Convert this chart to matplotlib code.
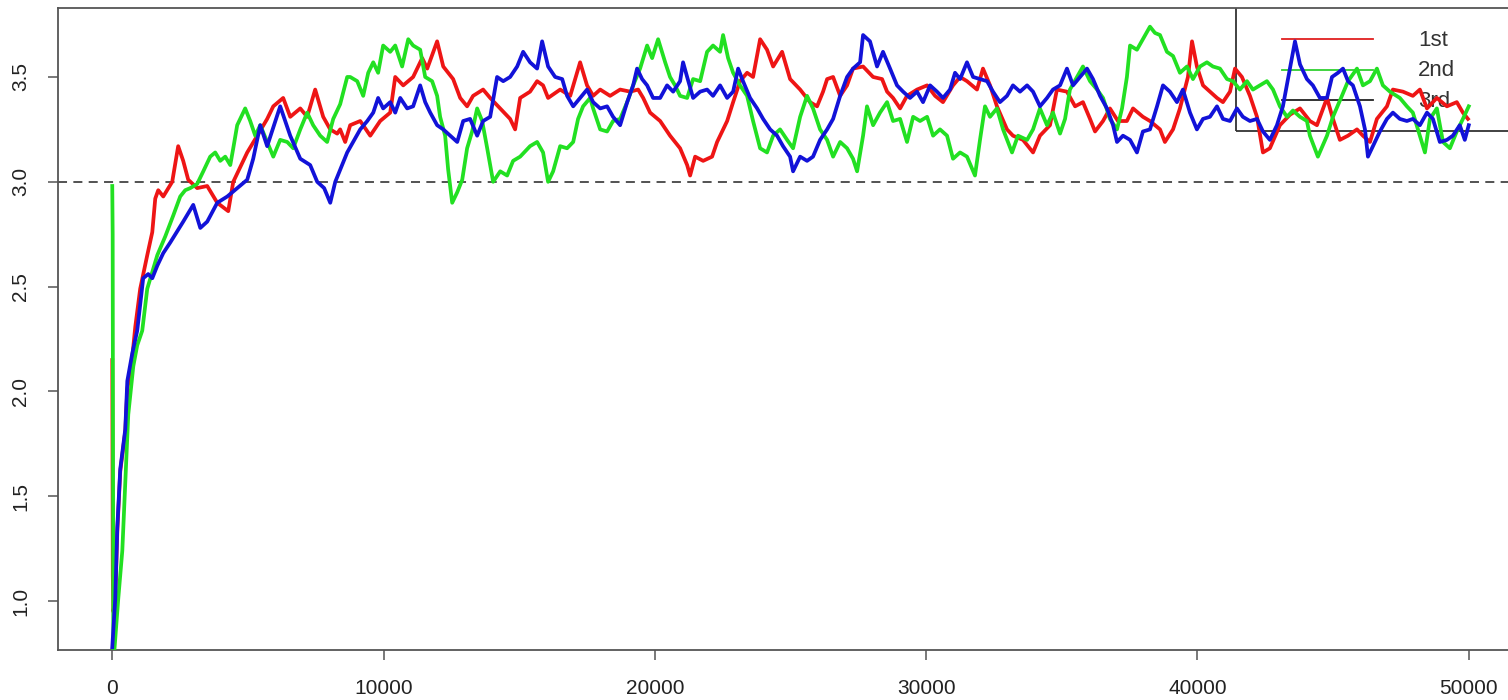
import numpy as np
import matplotlib
matplotlib.use("Agg")
import matplotlib.pyplot as plt
from matplotlib.patches import Rectangle

plt.rcParams['font.family'] = ['Liberation Sans Narrow', 'Liberation Sans', 'DejaVu Sans']

# three chains: (iteration, value)
chain1 = [(0, 2.15), (20, 1.12), (40, 0.95), (110, 1.01), (185, 1.33), (295, 1.62), (480, 1.81),
          (555, 2.01), (735, 2.16), (850, 2.31), (1030, 2.49), (1290, 2.65), (1475, 2.76),
          (1585, 2.92), (1695, 2.96), (1880, 2.93), (2210, 3.00), (2430, 3.17), (2615, 3.10),
          (2800, 3.01), (3130, 2.97), (3500, 2.98), (3870, 2.90), (4275, 2.86), (4460, 3.00),
          (4975, 3.14), (5345, 3.22), (5710, 3.30), (5935, 3.36), (6300, 3.40), (6560, 3.31),
          (6930, 3.35), (7185, 3.31), (7480, 3.44), (7775, 3.31), (8035, 3.25), (8290, 3.23),
          (8400, 3.25), (8585, 3.19), (8770, 3.27), (9140, 3.29), (9510, 3.22), (9875, 3.29),
          (10245, 3.33), (10430, 3.50), (10725, 3.46), (11090, 3.50), (11425, 3.59), (11610, 3.54),
          (11975, 3.67), (12200, 3.55), (12565, 3.49), (12825, 3.40), (13080, 3.36), (13300, 3.41),
          (13670, 3.44), (13930, 3.40), (14300, 3.35), (14665, 3.30), (14850, 3.25), (15035, 3.40),
          (15400, 3.43), (15660, 3.48), (15880, 3.46), (16065, 3.40), (16510, 3.44), (16880, 3.41),
          (17245, 3.57), (17500, 3.46), (17725, 3.41), (17985, 3.44), (18350, 3.41), (18720, 3.44),
          (19090, 3.43), (19385, 3.44), (19570, 3.40), (19825, 3.33), (20195, 3.29), (20560, 3.22),
          (20930, 3.16), (21190, 3.08), (21300, 3.03), (21485, 3.12), (21780, 3.10), (22110, 3.12),
          (22295, 3.19), (22665, 3.29), (22885, 3.38), (23140, 3.48), (23400, 3.52), (23620, 3.50),
          (23880, 3.68), (24135, 3.63), (24360, 3.55), (24690, 3.62), (24985, 3.49), (25355, 3.44),
          (25720, 3.38), (25980, 3.36), (26200, 3.43), (26350, 3.49), (26570, 3.50), (26830, 3.41),
          (27085, 3.46), (27305, 3.54), (27675, 3.55), (28045, 3.50), (28375, 3.49), (28560, 3.43),
          (28780, 3.40), (29040, 3.35), (29295, 3.41), (29665, 3.44), (30035, 3.46), (30330, 3.41),
          (30620, 3.38), (30990, 3.46), (31250, 3.50), (31505, 3.48), (31875, 3.44), (32095, 3.54),
          (32355, 3.46), (32610, 3.36), (32980, 3.25), (33200, 3.22), (33570, 3.20), (33940, 3.14),
          (34195, 3.22), (34565, 3.27), (34820, 3.44), (35190, 3.43), (35490, 3.36), (35780, 3.38),
          (36040, 3.30), (36225, 3.24), (36520, 3.29), (36775, 3.35), (37070, 3.29), (37400, 3.29),
          (37625, 3.35), (37990, 3.31), (38250, 3.29), (38620, 3.25), (38800, 3.19), (39100, 3.25),
          (39355, 3.35), (39650, 3.50), (39800, 3.67), (39980, 3.55), (40205, 3.46), (40460, 3.43),
          (40720, 3.40), (40940, 3.38), (41200, 3.43), (41385, 3.54), (41640, 3.50), (41935, 3.41),
          (42195, 3.31), (42415, 3.14), (42670, 3.16), (43040, 3.27), (43410, 3.32), (43780, 3.35),
          (44145, 3.29), (44405, 3.27), (44775, 3.40), (44995, 3.30), (45250, 3.20), (45550, 3.22),
          (45880, 3.25), (46100, 3.22), (46360, 3.19), (46615, 3.30), (46985, 3.36), (47205, 3.44),
          (47575, 3.43), (47940, 3.41), (48200, 3.44), (48460, 3.35), (48825, 3.40), (49195, 3.36),
          (49560, 3.38), (49785, 3.33), (49970, 3.30)]

chain2 = [(0, 2.98), (15, 2.75), (40, 0.70), (220, 1.01), (370, 1.24), (480, 1.57), (590, 1.89),
          (775, 2.12), (920, 2.22), (1105, 2.29), (1290, 2.49), (1660, 2.65), (1955, 2.74),
          (2250, 2.84), (2505, 2.93), (2690, 2.96), (2875, 2.97), (3130, 2.99), (3355, 3.05),
          (3610, 3.12), (3795, 3.14), (3980, 3.10), (4165, 3.12), (4350, 3.08), (4460, 3.16),
          (4605, 3.27), (4900, 3.35), (5085, 3.29), (5270, 3.22), (5455, 3.27), (5710, 3.19),
          (5935, 3.12), (6190, 3.20), (6450, 3.19), (6670, 3.16), (6930, 3.25), (7185, 3.33),
          (7405, 3.27), (7665, 3.22), (7920, 3.19), (8145, 3.30), (8400, 3.37), (8660, 3.50),
          (8770, 3.50), (9030, 3.48), (9250, 3.41), (9435, 3.52), (9620, 3.57), (9800, 3.52),
          (9985, 3.65), (10245, 3.62), (10430, 3.65), (10685, 3.55), (10910, 3.68), (11090, 3.65),
          (11350, 3.63), (11535, 3.50), (11790, 3.48), (11975, 3.41), (12085, 3.31), (12270, 3.22),
          (12380, 3.06), (12530, 2.90), (12715, 2.95), (12900, 3.01), (13080, 3.16), (13265, 3.24),
          (13450, 3.35), (13635, 3.29), (13820, 3.16), (14040, 3.00), (14300, 3.05), (14555, 3.03),
          (14775, 3.10), (15035, 3.12), (15400, 3.17), (15660, 3.19), (15880, 3.14), (16065, 3.00),
          (16250, 3.05), (16510, 3.17), (16765, 3.16), (16990, 3.19), (17170, 3.30), (17355, 3.36),
          (17615, 3.40), (17725, 3.35), (17985, 3.25), (18240, 3.24), (18460, 3.29), (18720, 3.30),
          (18980, 3.38), (19200, 3.46), (19455, 3.54), (19715, 3.65), (19900, 3.59), (20120, 3.68),
          (20380, 3.57), (20560, 3.50), (20745, 3.46), (20930, 3.41), (21190, 3.40), (21410, 3.49),
          (21670, 3.48), (21925, 3.62), (22145, 3.65), (22405, 3.62), (22515, 3.70), (22700, 3.59),
          (22885, 3.52), (23140, 3.46), (23400, 3.41), (23620, 3.29), (23880, 3.16), (24135, 3.14),
          (24360, 3.22), (24615, 3.25), (24875, 3.20), (25095, 3.16), (25355, 3.31), (25610, 3.41),
          (25830, 3.35), (26090, 3.25), (26350, 3.20), (26570, 3.12), (26830, 3.19), (27085, 3.16),
          (27305, 3.11), (27455, 3.05), (27675, 3.22), (27820, 3.36), (28045, 3.27), (28300, 3.33),
          (28560, 3.38), (28780, 3.29), (29040, 3.30), (29295, 3.19), (29520, 3.31), (29775, 3.29),
          (30035, 3.31), (30255, 3.22), (30510, 3.25), (30770, 3.22), (30990, 3.11), (31250, 3.14),
          (31505, 3.12), (31800, 3.03), (31985, 3.20), (32170, 3.36), (32355, 3.31), (32610, 3.35),
          (32835, 3.25), (33165, 3.14), (33385, 3.22), (33720, 3.20), (33940, 3.25), (34195, 3.35),
          (34455, 3.27), (34675, 3.33), (34935, 3.23), (35120, 3.30), (35300, 3.44), (35560, 3.50),
          (35780, 3.55), (36040, 3.48), (36300, 3.44), (36520, 3.40), (36775, 3.30), (37035, 3.25),
          (37220, 3.35), (37400, 3.50), (37515, 3.65), (37770, 3.63), (37990, 3.68), (38250, 3.74),
          (38435, 3.71), (38620, 3.70), (38875, 3.62), (39100, 3.60), (39355, 3.52), (39615, 3.55),
          (39835, 3.49), (40095, 3.55), (40350, 3.57), (40570, 3.55), (40830, 3.54), (41090, 3.49),
          (41310, 3.48), (41565, 3.44), (41825, 3.48), (42045, 3.44), (42305, 3.46), (42560, 3.48),
          (42785, 3.44), (43040, 3.36), (43300, 3.31), (43520, 3.34), (43780, 3.31), (44035, 3.29),
          (44145, 3.22), (44440, 3.12), (44775, 3.22), (44995, 3.31), (45325, 3.41), (45550, 3.48),
          (45880, 3.54), (46100, 3.46), (46360, 3.48), (46615, 3.54), (46835, 3.46), (47095, 3.43),
          (47460, 3.40), (47720, 3.36), (47940, 3.33), (48200, 3.22), (48385, 3.14), (48570, 3.30),
          (48825, 3.35), (49050, 3.19), (49305, 3.16), (49560, 3.24), (49785, 3.30), (50000, 3.36)]

chain3 = [(0, 0.78), (110, 1.01), (185, 1.35), (295, 1.63), (480, 1.82), (555, 2.05), (735, 2.18),
          (920, 2.29), (1140, 2.54), (1325, 2.56), (1475, 2.54), (1660, 2.60), (1880, 2.66),
          (2135, 2.71), (2615, 2.81), (2985, 2.89), (3245, 2.78), (3500, 2.81), (3870, 2.90),
          (4240, 2.93), (4605, 2.97), (4975, 3.01), (5195, 3.11), (5455, 3.27), (5710, 3.17),
          (6190, 3.36), (6560, 3.22), (6930, 3.11), (7295, 3.08), (7555, 3.00), (7810, 2.97),
          (8035, 2.90), (8220, 3.00), (8660, 3.14), (8880, 3.19), (9140, 3.25), (9400, 3.29),
          (9620, 3.33), (9800, 3.40), (9985, 3.35), (10245, 3.38), (10430, 3.33), (10615, 3.40),
          (10870, 3.35), (11090, 3.36), (11350, 3.46), (11535, 3.38), (11720, 3.33), (11975, 3.27),
          (12200, 3.25), (12455, 3.22), (12715, 3.19), (12935, 3.29), (13190, 3.30), (13450, 3.22),
          (13670, 3.29), (13930, 3.31), (14185, 3.50), (14410, 3.48), (14665, 3.50), (14925, 3.55),
          (15145, 3.62), (15400, 3.57), (15660, 3.54), (15845, 3.67), (16065, 3.55), (16325, 3.50),
          (16585, 3.49), (16765, 3.41), (16990, 3.36), (17245, 3.40), (17500, 3.44), (17725, 3.38),
          (17985, 3.35), (18240, 3.36), (18460, 3.31), (18720, 3.27), (18980, 3.38), (19200, 3.46),
          (19345, 3.54), (19530, 3.49), (19715, 3.46), (19935, 3.40), (20195, 3.40), (20450, 3.46),
          (20675, 3.43), (20930, 3.48), (21040, 3.57), (21190, 3.50), (21410, 3.40), (21670, 3.43),
          (21925, 3.44), (22145, 3.41), (22405, 3.46), (22665, 3.40), (22885, 3.43), (23070, 3.54),
          (23250, 3.48), (23510, 3.40), (23770, 3.35), (23990, 3.30), (24250, 3.25), (24505, 3.22),
          (24725, 3.17), (24985, 3.12), (25095, 3.05), (25355, 3.12), (25610, 3.10), (25830, 3.12),
          (26090, 3.20), (26350, 3.25), (26570, 3.30), (26830, 3.41), (27085, 3.50), (27305, 3.54),
          (27565, 3.57), (27675, 3.70), (27930, 3.67), (28190, 3.55), (28410, 3.62), (28670, 3.54),
          (28925, 3.46), (29150, 3.43), (29405, 3.40), (29665, 3.43), (29885, 3.38), (30145, 3.46),
          (30400, 3.43), (30620, 3.40), (30880, 3.44), (31065, 3.52), (31250, 3.49), (31505, 3.57),
          (31730, 3.50), (31985, 3.49), (32245, 3.48), (32465, 3.43), (32720, 3.38), (32980, 3.41),
          (33200, 3.46), (33460, 3.43), (33720, 3.46), (33940, 3.43), (34195, 3.36), (34455, 3.40),
          (34675, 3.44), (34935, 3.46), (35190, 3.54), (35415, 3.46), (35670, 3.50), (35930, 3.54),
          (36150, 3.49), (36410, 3.41), (36665, 3.35), (36890, 3.27), (37035, 3.19), (37255, 3.22),
          (37515, 3.20), (37770, 3.14), (37990, 3.24), (38250, 3.25), (38510, 3.36), (38730, 3.46),
          (38985, 3.43), (39245, 3.38), (39465, 3.44), (39725, 3.33), (39980, 3.25), (40205, 3.30),
          (40460, 3.31), (40720, 3.36), (40940, 3.30), (41200, 3.29), (41455, 3.35), (41675, 3.31),
          (41935, 3.29), (42195, 3.30), (42415, 3.24), (42670, 3.20), (42930, 3.27), (43150, 3.36),
          (43410, 3.54), (43595, 3.67), (43780, 3.56), (44035, 3.49), (44255, 3.46), (44515, 3.40),
          (44775, 3.40), (44960, 3.50), (45180, 3.52), (45365, 3.54), (45550, 3.48), (45730, 3.46),
          (45990, 3.36), (46175, 3.25), (46285, 3.12), (46470, 3.17), (46725, 3.24), (46985, 3.30),
          (47205, 3.33), (47460, 3.30), (47720, 3.29), (47940, 3.30), (48200, 3.27), (48460, 3.33),
          (48680, 3.30), (48935, 3.19), (49195, 3.20), (49415, 3.22), (49670, 3.27), (49855, 3.20),
          (50000, 3.27)]

chain_colors = ['#ee1515', '#22e022', '#1212d8']
legend_labels = ['1st', '2nd', '3rd']
legend_colors = ['#e02020', '#30d030', '#222222']
ref_value = 3.0

fig = plt.figure(figsize=(15.08, 7.0), dpi=100)
ax = fig.add_axes([58 / 1508, 50 / 700, 1465 / 1508, 642 / 700])

for chain, col in zip([chain1, chain2, chain3], chain_colors):
    arr = np.array(chain)
    ax.plot(arr[:, 0], arr[:, 1], color=col, lw=2.7, zorder=3)

ax.axhline(ref_value, color='#444444', lw=1.3, dashes=(5, 3.5), zorder=2)

ax.set_xlim(-2000, 52000)
ax.set_ylim(0.767, 3.829)
ax.set_xticks(np.arange(0, 50001, 10000))
ax.set_yticks(np.arange(1.0, 3.51, 0.5))
ax.set_xticklabels([str(v) for v in range(0, 50001, 10000)])
ax.set_yticklabels(['%.1f' % v for v in np.arange(1.0, 3.51, 0.5)], rotation=90, va='center')

for s in ax.spines.values():
    s.set_color('#555555')
    s.set_linewidth(1.3)
ax.tick_params(axis='both', direction='out', length=7, width=1.1, color='#555555',
               labelsize=15, labelcolor='#222222')
ax.tick_params(axis='x', pad=14)
ax.tick_params(axis='y', pad=13)

# legend box in the top right corner, drawn under the traces
ax.add_patch(Rectangle((0.804, 0.808), 0.3, 0.3, transform=ax.transAxes, fill=False,
                       edgecolor='#333333', lw=1.3, zorder=1, clip_on=True))
for i, (lab, col) in enumerate(zip(legend_labels, legend_colors)):
    yy = 0.9517 - i * 0.0475
    ax.plot([0.8355, 0.8976], [yy, yy], transform=ax.transAxes, color=col, lw=1.3, zorder=1)
    ax.text(0.9283, yy - 0.002, lab, transform=ax.transAxes, fontsize=16, color='#333333',
            va='center', ha='left', zorder=1)

fig.savefig('out.png', dpi=100)
